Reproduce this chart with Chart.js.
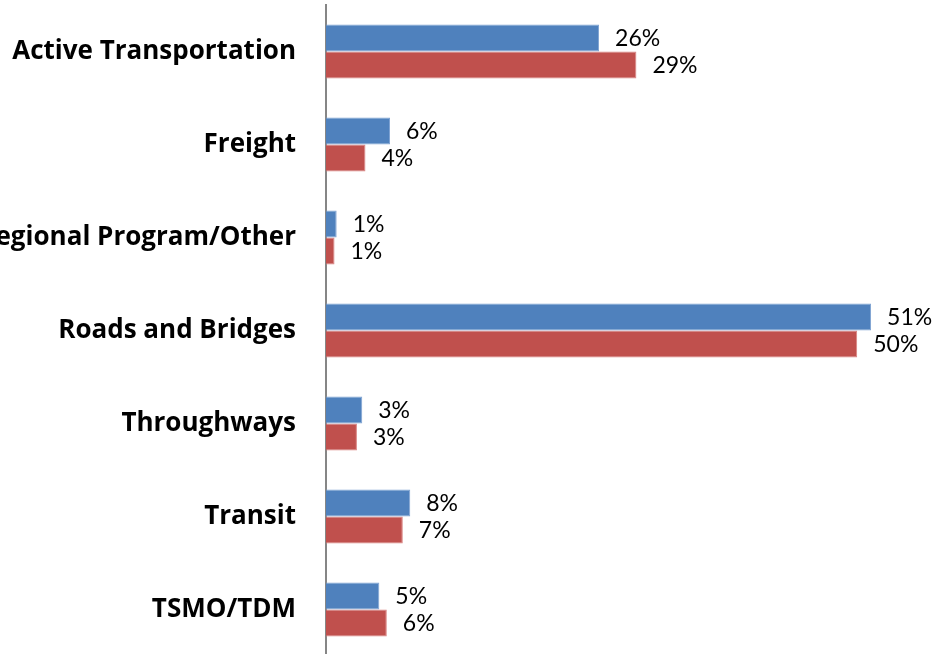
<!DOCTYPE html>
<html>
<head>
<meta charset="utf-8">
<script src="https://cdn.jsdelivr.net/npm/chart.js@4"></script>
<style>
    html, body { margin: 0; padding: 0; background: #fff; overflow: hidden; }
    #wrap { width: 934px; height: 654px; overflow: hidden; position: relative; }
    #wrap canvas { display: block; }
</style>
</head>
<body>
<div id="wrap">
    <canvas id="chartProyectos" width="934" height="658"></canvas>
</div>
<script>
const categorias = [
    'Active Transportation',
    'Freight',
    'Regional Program/Other',
    'Roads and Bridges',
    'Throughways',
    'Transit',
    'TSMO/TDM'
];
const serieAzul = [25.6, 6.0, 1.0, 51.1, 3.4, 7.9, 5.0];
const serieRoja = [29.1, 3.7, 0.8, 49.8, 2.9, 7.2, 5.7];

const COLOR_AZUL = '#4F81BD';
const COLOR_ROJO = '#C0504D';

// etiquetas de porcentaje a la derecha de cada barra
const etiquetasPlugin = {
    id: 'etiquetas',
    afterDatasetsDraw(chart) {
        const ctx = chart.ctx;
        ctx.save();
        ctx.font = '23px Lato';
        ctx.fillStyle = '#000';
        ctx.textAlign = 'left';
        ctx.textBaseline = 'middle';
        chart.data.datasets.forEach((ds, i) => {
            chart.getDatasetMeta(i).data.forEach((bar, j) => {
                ctx.fillText(Math.round(ds.data[j]) + '%', bar.x + 16, bar.y + 1);
            });
        });
        ctx.restore();
    }
};

new Chart(document.getElementById('chartProyectos').getContext('2d'), {
    type: 'bar',
    data: {
        labels: categorias,
        datasets: [{
            label: 'Serie 1',
            data: serieAzul,
            backgroundColor: COLOR_AZUL,
            borderColor: '#7FA3D3',
            borderWidth: 1,
            categoryPercentage: 0.58,
            barPercentage: 1
        }, {
            label: 'Serie 2',
            data: serieRoja,
            backgroundColor: COLOR_ROJO,
            borderColor: '#D98280',
            borderWidth: 1,
            categoryPercentage: 0.58,
            barPercentage: 1
        }]
    },
    options: {
        indexAxis: 'y',
        responsive: false,
        animation: false,
        layout: { padding: { top: 5, bottom: 2, left: 0, right: 0 } },
        plugins: {
            legend: { display: false },
            tooltip: { enabled: false }
        },
        scales: {
            x: {
                display: false,
                min: 0,
                max: 57
            },
            y: {
                grid: { display: false, drawTicks: false },
                border: { display: true, color: '#868686', width: 2 },
                ticks: {
                    color: '#000',
                    padding: 30,
                    font: { family: 'Open Sans', size: 26, weight: 'bold' }
                },
                afterFit(scale) {
                    scale.width = 326;
                    scale.paddingTop = 0;
                    scale.paddingBottom = 0;
                }
            }
        }
    },
    plugins: [etiquetasPlugin]
});
</script>
</body>
</html>
